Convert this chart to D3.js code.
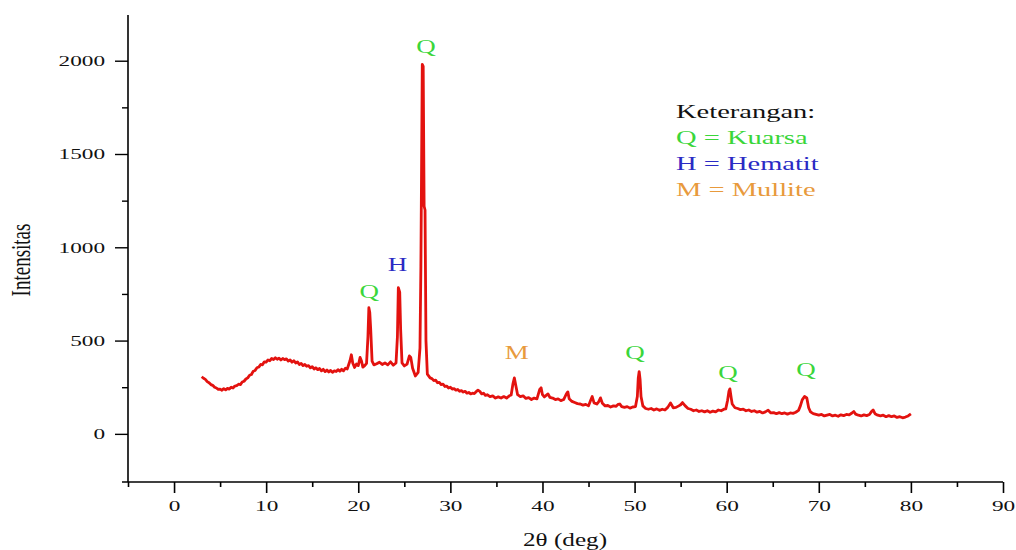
<!DOCTYPE html>
<html>
<head>
<meta charset="utf-8">
<script src="https://cdn.jsdelivr.net/npm/d3@7"></script>
<style>
    body { margin: 0; background: #fff; }
    #chart { width: 1016px; height: 550px; }
    text { font-family: "Liberation Serif", "Times New Roman", serif; }
</style>
</head>
<body>
<div id="chart"></div>
<script>

const patternPoints = [
    [3.0, 306], [3.2, 298], [3.4, 292], [3.6, 280], [3.8, 274], [4.0, 264], [4.2, 260], [4.4, 250], [4.6, 246], [4.8, 238],
    [5.0, 240], [5.2, 234], [5.4, 242], [5.6, 236], [5.8, 244], [6.0, 240], [6.2, 250], [6.4, 246], [6.6, 256], [6.8, 258],
    [7.0, 266], [7.2, 264], [7.4, 278], [7.6, 282], [7.8, 294], [8.0, 300], [8.2, 314], [8.4, 318], [8.6, 336], [8.8, 340],
    [9.0, 354], [9.2, 358], [9.4, 372], [9.6, 370], [9.8, 386], [10.0, 384], [10.2, 396], [10.4, 392], [10.6, 404], [10.8, 398],
    [11.0, 408], [11.2, 400], [11.4, 406], [11.6, 396], [11.8, 404], [12.0, 398], [12.2, 402], [12.4, 390], [12.6, 396], [12.8, 384],
    [13.0, 392], [13.2, 380], [13.4, 386], [13.6, 372], [13.8, 378], [14.0, 366], [14.2, 372], [14.4, 362], [14.6, 366], [14.8, 354],
    [15.0, 360], [15.2, 348], [15.4, 354], [15.6, 344], [15.8, 350], [16.0, 338], [16.2, 346], [16.4, 334], [16.6, 342], [16.8, 332],
    [17.0, 340], [17.2, 330], [17.4, 338], [17.6, 334], [17.8, 344], [18.0, 336], [18.2, 346], [18.4, 338], [18.6, 352], [18.8, 348],
    [19.1, 392], [19.25, 424], [19.4, 380], [19.6, 356], [19.8, 374], [20.0, 366], [20.2, 410], [20.35, 390], [20.5, 358], [20.7, 366],
    [20.9, 378], [21.05, 520], [21.15, 676], [21.25, 650], [21.35, 560], [21.5, 390], [21.7, 370], [22.0, 376], [22.3, 384], [22.6, 372],
    [22.9, 380], [23.2, 370], [23.5, 386], [23.8, 368], [24.1, 380], [24.25, 520], [24.35, 783], [24.5, 760], [24.6, 560], [24.75, 380],
    [25.0, 364], [25.3, 374], [25.55, 418], [25.7, 410], [25.9, 352], [26.2, 310], [26.5, 330], [26.7, 460], [26.8, 900], [26.95, 1980],
    [27.05, 1970], [27.15, 1220], [27.25, 1200], [27.35, 500], [27.5, 320], [27.8, 300], [28.0, 296], [28.2, 286], [28.4, 288], [28.6, 274],
    [28.8, 276], [29.0, 264], [29.2, 266], [29.4, 254], [29.6, 256], [29.8, 246], [30.0, 250], [30.2, 240], [30.4, 242], [30.6, 234],
    [30.8, 238], [31.0, 228], [31.2, 232], [31.4, 224], [31.6, 228], [31.8, 218], [32.0, 222], [32.2, 214], [32.4, 218], [32.6, 216],
    [32.8, 226], [33.0, 234], [33.2, 228], [33.4, 214], [33.6, 218], [33.8, 206], [34.0, 210], [34.3, 200], [34.6, 204], [34.9, 192],
    [35.2, 198], [35.5, 192], [35.8, 200], [36.1, 192], [36.4, 204], [36.6, 208], [36.8, 270], [36.95, 300], [37.1, 260], [37.3, 210],
    [37.6, 200], [37.9, 204], [38.2, 190], [38.5, 194], [38.8, 184], [39.1, 192], [39.4, 188], [39.7, 238], [39.85, 247], [40.0, 210],
    [40.2, 198], [40.4, 206], [40.6, 214], [40.8, 196], [41.1, 192], [41.4, 184], [41.7, 188], [42.0, 178], [42.3, 184], [42.6, 215],
    [42.75, 225], [42.9, 188], [43.2, 174], [43.5, 168], [43.8, 162], [44.1, 160], [44.4, 154], [44.7, 158], [45.0, 150], [45.2, 176],
    [45.4, 200], [45.6, 166], [45.9, 160], [46.1, 172], [46.3, 193], [46.5, 164], [46.8, 150], [47.1, 152], [47.4, 144], [47.7, 150],
    [48.0, 148], [48.2, 158], [48.4, 160], [48.6, 146], [48.9, 142], [49.2, 146], [49.5, 138], [49.8, 144], [50.1, 146], [50.3, 200],
    [50.4, 300], [50.5, 334], [50.6, 290], [50.7, 200], [50.9, 150], [51.2, 136], [51.5, 132], [51.8, 136], [52.1, 128], [52.4, 134],
    [52.7, 126], [53.0, 132], [53.3, 128], [53.6, 142], [53.9, 166], [54.2, 140], [54.5, 142], [54.8, 150], [55.0, 156], [55.2, 168],
    [55.5, 150], [55.8, 136], [56.1, 132], [56.4, 124], [56.7, 128], [57.0, 120], [57.3, 124], [57.6, 118], [57.9, 124], [58.2, 116],
    [58.5, 122], [58.8, 118], [59.1, 128], [59.4, 124], [59.7, 132], [59.9, 134], [60.1, 180], [60.25, 230], [60.35, 241], [60.5, 190],
    [60.6, 160], [60.9, 140], [61.2, 136], [61.5, 130], [61.8, 132], [62.1, 124], [62.4, 128], [62.7, 120], [63.0, 124], [63.3, 116],
    [63.6, 120], [63.9, 112], [64.2, 118], [64.5, 127], [64.8, 112], [65.1, 114], [65.4, 108], [65.7, 114], [66.0, 108], [66.3, 112],
    [66.6, 106], [66.9, 112], [67.2, 110], [67.5, 116], [67.8, 126], [68.0, 150], [68.2, 182], [68.45, 200], [68.7, 192], [68.9, 140],
    [69.1, 118], [69.4, 108], [69.7, 104], [70.0, 100], [70.3, 104], [70.6, 96], [70.9, 100], [71.2, 104], [71.5, 96], [71.8, 100],
    [72.1, 94], [72.4, 102], [72.7, 98], [73.0, 104], [73.3, 102], [73.6, 112], [73.8, 120], [74.0, 106], [74.3, 100], [74.6, 96],
    [74.9, 102], [75.2, 98], [75.5, 104], [75.7, 118], [75.9, 128], [76.1, 108], [76.4, 100], [76.7, 96], [77.0, 100], [77.3, 92],
    [77.6, 98], [77.9, 92], [78.2, 96], [78.5, 88], [78.8, 92], [79.1, 86], [79.4, 90], [79.7, 96], [80.0, 107]
];

// phase labels placed over the peaks
const peakLabels = ["Q", "H", "Q", "M", "Q", "Q", "Q"];
const peakLabelX = [21.2, 24.25, 27.35, 37.2, 50.05, 60.15, 68.6];
const peakLabelY = [730, 874, 2039, 402, 402, 295, 311];

// legend lines
const legendLines = ["Keterangan:", "Q = Kuarsa", "H = Hematit", "M = Mullite"];
const legendPhase = ["", "Q", "H", "M"];

const xTicks = [0, 10, 20, 30, 40, 50, 60, 70, 80, 90];
const xMinorTicks = [-5, 5, 15, 25, 35, 45, 55, 65, 75, 85];
const yTicks = [0, 500, 1000, 1500, 2000];
const yMinorTicks = [250, 750, 1250, 1750];

const phaseColor = {"": "#111111", Q: "#3ad63a", H: "#2a2ac4", M: "#e89a3c"};

class XrdVis {

    constructor(parentElement) {
        let vis = this;
        vis.parentElement = parentElement;
        vis.stretch = 1.5;   // the source figure is stretched sideways
        vis.initVis();
    }

    initVis() {
        let vis = this;

        vis.svg = d3.select("#" + vis.parentElement)
            .append("svg")
            .attr("width", 1016)
            .attr("height", 550);

        vis.x = d3.scaleLinear().domain([-5, 90]).range([128, 1003]);
        vis.y = d3.scaleLinear().domain([-258, 2245]).range([482, 15]);

        vis.data = patternPoints.map(p => ({t: p[0], v: p[1]}));

        vis.drawAxes();
        vis.drawPattern();
        vis.drawLabels();
    }

    drawAxes() {
        let vis = this;
        let s = vis.stretch;

        // minor ticks first
        vis.svg.append("g")
            .attr("transform", "translate(0,482)")
            .call(d3.axisBottom(vis.x).tickValues(xMinorTicks).tickSize(5).tickFormat(""))
            .call(g => g.select(".domain").remove())
            .call(g => g.selectAll("line").attr("stroke", "#000").attr("stroke-width", 1.6));

        vis.svg.append("g")
            .attr("transform", "translate(128,0)")
            .call(d3.axisLeft(vis.y).tickValues(yMinorTicks).tickSize(6).tickFormat(""))
            .call(g => g.select(".domain").remove())
            .call(g => g.selectAll("line").attr("stroke", "#000").attr("stroke-width", 1.4));

        // x axis
        let xAxis = vis.svg.append("g")
            .attr("transform", "translate(0,482)")
            .call(d3.axisBottom(vis.x).tickValues(xTicks).tickSize(11).tickSizeOuter(0).tickPadding(7));
        xAxis.select(".domain").remove();
        xAxis.selectAll("line").attr("stroke", "#000").attr("stroke-width", 1.6);
        xAxis.selectAll("text")
            .attr("font-size", "15.5px")
            .attr("fill", "#111")
            .attr("font-family", "Liberation Serif, serif")
            .attr("transform", `scale(${s},1)`);

        vis.svg.append("line")
            .attr("x1", 122).attr("x2", 1003)
            .attr("y1", 482).attr("y2", 482)
            .attr("stroke", "#000").attr("stroke-width", 1.6);

        // y axis
        let yAxis = vis.svg.append("g")
            .attr("transform", "translate(128,0)")
            .call(d3.axisLeft(vis.y).tickValues(yTicks).tickSize(13).tickFormat(d3.format("d")));
        yAxis.select(".domain").remove();
        yAxis.selectAll("line").attr("stroke", "#000").attr("stroke-width", 1.4);
        yAxis.selectAll("text")
            .attr("x", -23 / s)
            .attr("font-size", "15.5px")
            .attr("fill", "#111")
            .attr("font-family", "Liberation Serif, serif")
            .attr("transform", `scale(${s},1)`);

        vis.svg.append("line")
            .attr("x1", 128).attr("x2", 128)
            .attr("y1", 15).attr("y2", 482)
            .attr("stroke", "#000").attr("stroke-width", 1.6);

        // axis titles
        vis.svg.append("text")
            .attr("transform", `translate(565,546) scale(1.4,1)`)
            .attr("text-anchor", "middle")
            .attr("font-size", "18px")
            .attr("fill", "#111")
            .text("2θ (deg)");

        vis.svg.append("text")
            .attr("transform", `translate(30,260) scale(1.45,1) rotate(-90)`)
            .attr("text-anchor", "middle")
            .attr("font-size", "19px")
            .attr("fill", "#111")
            .text("Intensitas");
    }

    drawPattern() {
        let vis = this;

        vis.line = d3.line()
            .x(d => vis.x(d.t))
            .y(d => vis.y(d.v));

        vis.svg.append("path")
            .datum(vis.data)
            .attr("fill", "none")
            .attr("stroke", "#e3120f")
            .attr("stroke-width", 2.8)
            .attr("stroke-linejoin", "round")
            .attr("d", vis.line);
    }

    drawLabels() {
        let vis = this;
        let s = vis.stretch;

        peakLabels.forEach((lab, i) => {
            vis.svg.append("text")
                .attr("class", "peak-label")
                .attr("transform", `translate(${vis.x(peakLabelX[i])},${vis.y(peakLabelY[i])}) scale(${s},1)`)
                .attr("text-anchor", "middle")
                .attr("font-size", "18px")
                .attr("fill", phaseColor[lab])
                .text(lab);
        });

        // legend
        legendLines.forEach((txt, i) => {
            vis.svg.append("text")
                .attr("class", "legend-line")
                .attr("transform", `translate(676,${118 + i * 26}) scale(${s},1)`)
                .attr("font-size", "19px")
                .attr("fill", phaseColor[legendPhase[i]])
                .text(txt);
        });
    }
}

new XrdVis("chart");
</script>
</body>
</html>
